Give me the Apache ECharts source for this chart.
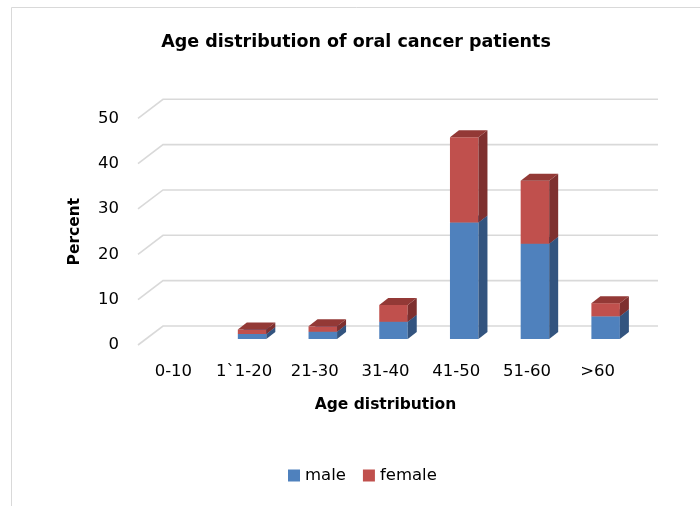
<!DOCTYPE html>
<html>
<head>
<meta charset="utf-8">
<script src="https://cdn.jsdelivr.net/npm/echarts@6/dist/echarts.min.js"></script>
<style>
  html, body { margin: 0; padding: 0; background: #fff; }
  #chart { width: 700px; height: 506px; }
</style>
</head>
<body>
<div id="chart"></div>
<script>
// Age groups and the share of patients (percent) in each, split by sex
var categories = ['0-10', '1`1-20', '21-30', '31-40', '41-50', '51-60', '>60'];
var male = [0, 1.1, 1.6, 3.8, 25.7, 21.0, 5.0];
var female = [0, 1.0, 1.2, 3.7, 18.8, 13.9, 2.9];
var yTicks = [0, 10, 20, 30, 40, 50];

// Pseudo-3D geometry (pixels)
var FLOOR_DX = 25, FLOOR_DY = -19;   // depth of the floor / back wall
var FACE_DX = 8, FACE_DY = -6;       // bar front face, measured from the front plane
var BAR_DX = 9, BAR_DY = -7;         // depth of each bar
var BAR_HALF = 14.25;                // half width of a bar front face

var FONT = 'DejaVu Sans';

function barRenderer(front, side, top) {
  return function (params, api) {
    var i = api.value(0), lo = api.value(1), hi = api.value(2);
    if (!(hi > lo)) return null;
    var pLo = api.coord([i, lo]);
    var pHi = api.coord([i, hi]);
    var cx = pLo[0] + FACE_DX;
    var x0 = cx - BAR_HALF, x1 = cx + BAR_HALF;
    var yb = pLo[1] + FACE_DY, yt = pHi[1] + FACE_DY;
    return {
      type: 'group',
      children: [
        { type: 'polygon', shape: { points: [[x0, yt], [x1, yt], [x1, yb], [x0, yb]] },
          style: { fill: front } },
        { type: 'polygon', shape: { points: [[x1, yt], [x1 + BAR_DX, yt + BAR_DY], [x1 + BAR_DX, yb + BAR_DY], [x1, yb]] },
          style: { fill: side } },
        { type: 'polygon', shape: { points: [[x0, yt], [x1, yt], [x1 + BAR_DX, yt + BAR_DY], [x0 + BAR_DX, yt + BAR_DY]] },
          style: { fill: top } }
      ]
    };
  };
}

var chart = echarts.init(document.getElementById('chart'), null, { renderer: 'canvas' });

chart.setOption({
  animation: false,
  backgroundColor: '#ffffff',
  textStyle: { fontFamily: FONT },
  title: {
    text: 'Age distribution of oral cancer patients',
    left: 351, top: 28, textAlign: 'center',
    textStyle: { fontFamily: FONT, fontWeight: 'bold', fontSize: 17.5, color: '#000' }
  },
  legend: {
    data: ['male', 'female'],
    left: 283, top: 462,
    icon: 'rect', itemWidth: 12, itemHeight: 12, itemGap: 17,
    textStyle: { fontFamily: FONT, fontSize: 16.5, color: '#000' }
  },
  graphic: [
    { type: 'rect', shape: { x: 11.5, y: 7.5, width: 720, height: 520 },
      style: { fill: 'none', stroke: '#d9d9d9', lineWidth: 1 }, z: -10 }
  ],
  grid: { left: 138, right: 67, top: 118.3, bottom: 161, containLabel: false },
  xAxis: {
    type: 'category',
    data: categories,
    axisLine: { show: false },
    axisTick: { show: false },
    axisLabel: { interval: 0, margin: 18, fontSize: 16.5, color: '#000', fontFamily: FONT },
    name: 'Age distribution',
    nameLocation: 'middle',
    nameGap: 52,
    nameTextStyle: { fontFamily: FONT, fontWeight: 'bold', fontSize: 15.5, color: '#000' }
  },
  yAxis: {
    type: 'value',
    min: 0, max: 50, interval: 10,
    axisLine: { show: false },
    axisTick: { show: false },
    splitLine: { show: false },
    axisLabel: { margin: 19, fontSize: 16.5, color: '#000', fontFamily: FONT },
    name: 'Percent',
    nameLocation: 'middle',
    nameGap: 55,
    nameTextStyle: { fontFamily: FONT, fontWeight: 'bold', fontSize: 15.5, color: '#000' }
  },
  series: [
    {
      // floor diagonals and back-wall gridlines
      name: 'grid',
      type: 'custom',
      silent: true,
      z: 1,
      data: yTicks.map(function (v) { return [0, v]; }),
      renderItem: function (params, api) {
        var cs = params.coordSys;
        var y = api.coord([0, api.value(1)])[1];
        var xb = cs.x + FLOOR_DX, yb = y + FLOOR_DY;
        return {
          type: 'polyline',
          shape: { points: [[cs.x, y], [xb, yb], [xb + cs.width, yb]] },
          style: { stroke: '#d9d9d9', lineWidth: 1.6, fill: null }
        };
      }
    },
    {
      name: 'male',
      type: 'custom',
      z: 2,
      itemStyle: { color: '#4F81BD' },
      data: categories.map(function (c, i) { return [i, 0, male[i]]; }),
      renderItem: barRenderer('#4F81BD', '#33547f', '#3d6699')
    },
    {
      name: 'female',
      type: 'custom',
      z: 3,
      itemStyle: { color: '#C0504D' },
      data: categories.map(function (c, i) { return [i, male[i], male[i] + female[i]]; }),
      renderItem: barRenderer('#C0504D', '#7e302f', '#933936')
    }
  ]
});
</script>
</body>
</html>
